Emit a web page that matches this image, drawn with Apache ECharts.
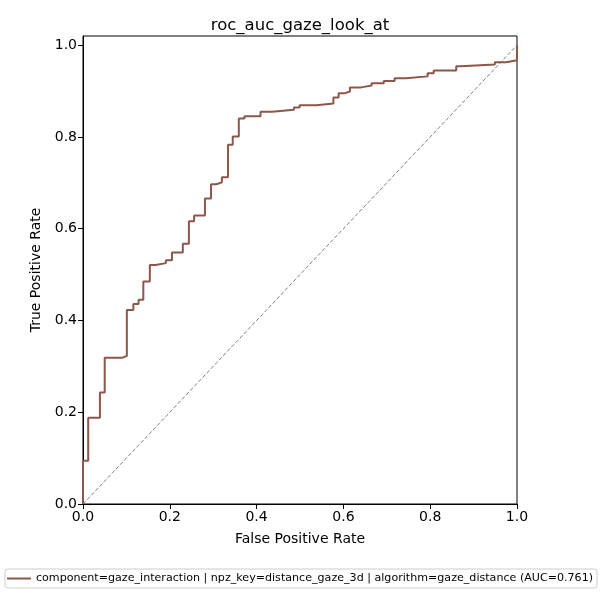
<!DOCTYPE html>
<html>
<head>
<meta charset="utf-8">
<script src="https://cdn.jsdelivr.net/npm/echarts@6/dist/echarts.min.js"></script>
<style>
  html, body { margin: 0; padding: 0; background: #fff; }
  #chart { width: 600px; height: 600px; }
</style>
</head>
<body>
<div id="chart"></div>
<script>
// ROC corner points
const fpr = [
  0, 0, 0.012, 0.012, 0.039, 0.039, 0.050, 0.050, 0.091, 0.091,
  0.101, 0.101, 0.116, 0.116, 0.128, 0.128, 0.139, 0.139, 0.154, 0.154,
  0.167, 0.167, 0.191, 0.191, 0.205, 0.205, 0.230, 0.230, 0.244, 0.244,
  0.256, 0.256, 0.281, 0.281, 0.295, 0.295, 0.307, 0.307, 0.320, 0.320,
  0.334, 0.334, 0.345, 0.345, 0.359, 0.359, 0.372, 0.372, 0.409, 0.409,
  0.436, 0.436, 0.486, 0.486, 0.499, 0.499, 0.538, 0.538, 0.577, 0.577,
  0.589, 0.589, 0.602, 0.602, 0.615, 0.615, 0.641, 0.641, 0.665, 0.665,
  0.693, 0.693, 0.718, 0.718, 0.744, 0.744, 0.794, 0.794, 0.808, 0.808,
  0.860, 0.860, 0.870, 0.870, 0.949, 0.949, 0.975, 0.975, 1.0, 1.0
];
const tpr = [
  0, 0.094, 0.094, 0.188, 0.188, 0.243, 0.243, 0.319, 0.319, 0.323,
  0.323, 0.423, 0.423, 0.436, 0.436, 0.445, 0.445, 0.485, 0.485, 0.521,
  0.521, 0.525, 0.525, 0.531, 0.531, 0.548, 0.548, 0.567, 0.567, 0.616,
  0.616, 0.629, 0.629, 0.666, 0.666, 0.697, 0.697, 0.701, 0.701, 0.712,
  0.712, 0.783, 0.783, 0.801, 0.801, 0.840, 0.840, 0.845, 0.845, 0.855,
  0.855, 0.859, 0.859, 0.864, 0.864, 0.869, 0.869, 0.873, 0.873, 0.886,
  0.886, 0.895, 0.895, 0.899, 0.899, 0.908, 0.908, 0.912, 0.912, 0.917,
  0.917, 0.922, 0.922, 0.928, 0.928, 0.932, 0.932, 0.939, 0.939, 0.945,
  0.945, 0.954, 0.954, 0.958, 0.958, 0.963, 0.963, 0.967, 0.967, 1.0
];
const chanceX = [0, 1];
const chanceY = [0, 1];
const xTicks = [0, 0.2, 0.4, 0.6, 0.8, 1.0];
const yTicks = [0, 0.2, 0.4, 0.6, 0.8, 1.0];
const seriesName = "component=gaze_interaction | npz_key=distance_gaze_3d | algorithm=gaze_distance (AUC=0.761)";

const font = "DejaVu Sans";
let chart = echarts.init(document.getElementById("chart"));

const axisCommon = {
  type: "value",
  axisLine: { show: true, lineStyle: { color: "#000", width: 1 } },
  axisTick: { show: true, inside: false, length: 5, lineStyle: { color: "#000" } },
  splitLine: { show: false },
  nameLocation: "middle",
  nameTextStyle: { fontFamily: font, fontSize: 14, color: "#000" },
};

let option = {
  animation: false,
  textStyle: { fontFamily: font },
  title: {
    text: "roc_auc_gaze_look_at",
    left: "center",
    top: 12,
    textStyle: { fontFamily: font, fontSize: 16.5, fontWeight: "normal", color: "#000" },
  },
  legend: {
    data: [seriesName],
    bottom: 12,
    left: "center",
    padding: [4, 4, 4, 2],
    borderColor: "#ccc",
    borderWidth: 1,
    borderRadius: 3,
    itemWidth: 24,
    itemHeight: 10,
    itemGap: 8,
    icon: "path://M0,4 L24,4 L24,6 L0,6 Z",
    textStyle: { fontFamily: font, fontSize: 11.1, color: "#000" },
  },
  grid: {
    left: 83,
    right: 83,
    top: 36,
    bottom: 96,
    show: true,
    borderColor: "#000",
    borderWidth: 1,
    backgroundColor: "transparent",
  },
  xAxis: Object.assign({}, axisCommon, {
    min: 0,
    max: 1,
    name: "False Positive Rate",
    nameGap: 28,
    axisTick: Object.assign({}, axisCommon.axisTick, { customValues: xTicks }),
    axisLabel: {
      customValues: xTicks,
      fontFamily: font, fontSize: 14, color: "#000", margin: 6,
      formatter: (v) => v.toFixed(1),
    },
  }),
  yAxis: Object.assign({}, axisCommon, {
    min: 0,
    max: 1.02,
    name: "True Positive Rate",
    nameGap: 39,
    axisTick: Object.assign({}, axisCommon.axisTick, { customValues: yTicks }),
    axisLabel: {
      customValues: yTicks,
      fontFamily: font, fontSize: 14, color: "#000", margin: 6,
      formatter: (v) => v.toFixed(1),
    },
  }),
  series: [
    {
      name: "chance",
      type: "line",
      data: chanceX.map((x, i) => [x, chanceY[i]]),
      showSymbol: false,
      silent: true,
      lineStyle: { color: "#808080", width: 1, type: [4, 2] },
      z: 1,
    },
    {
      name: seriesName,
      type: "line",
      data: fpr.map((x, i) => [x, tpr[i]]),
      showSymbol: false,
      color: "#8c564b",
      lineStyle: { color: "#8c564b", width: 2 },
      z: 2,
    },
  ],
};
chart.setOption(option);
</script>
</body>
</html>
